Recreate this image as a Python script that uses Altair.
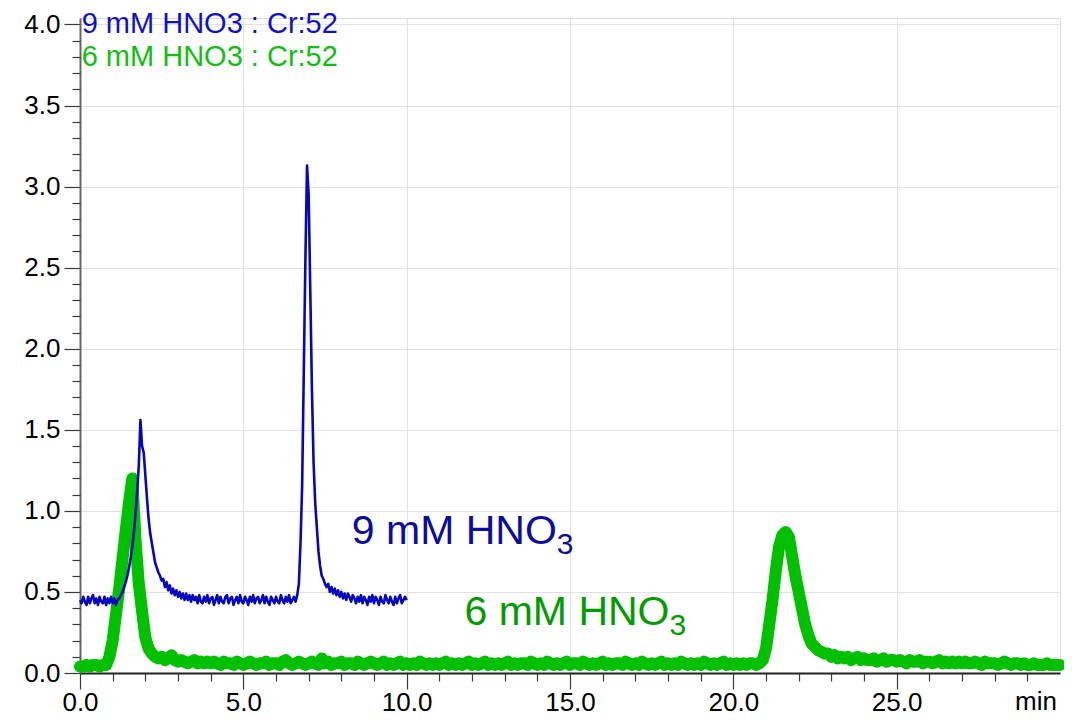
import altair as alt
import pandas as pd

# ---- data (signal vs retention time, min) ----
BLUE_STEP = 0.05   # sampling interval of the 9 mM trace (min)
GREEN_STEP = 0.1   # sampling interval of the 6 mM trace (min)

blue_signal = [
    0.45, 0.43, 0.47, 0.44, 0.42, 0.47, 0.43, 0.46, 0.48, 0.43,
    0.46, 0.42, 0.47, 0.44, 0.43, 0.47, 0.42, 0.46, 0.43, 0.47,
    0.43, 0.46, 0.42, 0.45, 0.46, 0.48, 0.50, 0.53, 0.56, 0.60,
    0.65, 0.71, 0.78, 0.87, 0.98, 1.12, 1.28, 1.56, 1.40, 1.36,
    1.22, 1.08, 0.95, 0.86, 0.80, 0.74, 0.68, 0.65, 0.62, 0.60,
    0.57, 0.58, 0.53, 0.56, 0.51, 0.54, 0.49, 0.52, 0.48, 0.51,
    0.47, 0.50, 0.46, 0.49, 0.45, 0.49, 0.45, 0.48, 0.44, 0.48,
    0.45, 0.47, 0.43, 0.48, 0.44, 0.43, 0.47, 0.44, 0.48, 0.43,
    0.46, 0.47, 0.42, 0.45, 0.48, 0.43, 0.47, 0.44, 0.43, 0.47,
    0.48, 0.43, 0.46, 0.47, 0.42, 0.45, 0.47, 0.43, 0.48, 0.44,
    0.43, 0.47, 0.45, 0.42, 0.47, 0.44, 0.48, 0.43, 0.46, 0.47,
    0.43, 0.45, 0.48, 0.43, 0.47, 0.44, 0.42, 0.47, 0.45, 0.43,
    0.47, 0.44, 0.43, 0.48, 0.45, 0.43, 0.47, 0.44, 0.48, 0.43,
    0.45, 0.47, 0.44, 0.48, 0.55, 0.80, 1.15, 1.85, 2.55, 3.13,
    2.95, 2.35, 1.75, 1.30, 1.05, 0.90, 0.75, 0.66, 0.60, 0.58,
    0.55, 0.53, 0.55, 0.50, 0.53, 0.49, 0.52, 0.48, 0.51, 0.47,
    0.50, 0.46, 0.49, 0.45, 0.49, 0.47, 0.44, 0.48, 0.46, 0.43,
    0.47, 0.44, 0.48, 0.43, 0.47, 0.45, 0.42, 0.47, 0.44, 0.48,
    0.43, 0.47, 0.45, 0.42, 0.47, 0.44, 0.43, 0.48, 0.45, 0.43,
    0.47, 0.44, 0.42, 0.47, 0.43, 0.46, 0.48, 0.43, 0.45, 0.47,
    0.45,
]

green_signal = [
    0.04, 0.04, 0.05, 0.04, 0.05, 0.05, 0.04, 0.05, 0.05, 0.10,
    0.20, 0.36, 0.52, 0.70, 0.88, 1.05, 1.20, 0.82, 0.55, 0.38,
    0.22, 0.15, 0.12, 0.10, 0.09, 0.10, 0.08, 0.09, 0.11, 0.08,
    0.07, 0.08, 0.07, 0.06, 0.07, 0.08, 0.06, 0.07, 0.06, 0.07,
    0.06, 0.07, 0.06, 0.05, 0.07, 0.06, 0.06, 0.05, 0.07, 0.06,
    0.05, 0.06, 0.07, 0.06, 0.05, 0.06, 0.06, 0.07, 0.05, 0.06,
    0.06, 0.05, 0.07, 0.08, 0.06, 0.05, 0.06, 0.07, 0.06, 0.05,
    0.06, 0.07, 0.06, 0.05, 0.09, 0.06, 0.07, 0.05, 0.06, 0.06,
    0.07, 0.05, 0.06, 0.06, 0.05, 0.07, 0.06, 0.05, 0.06, 0.07,
    0.06, 0.05, 0.06, 0.07, 0.05, 0.06, 0.05, 0.06, 0.07, 0.05,
    0.06, 0.05, 0.06, 0.05, 0.07, 0.06, 0.05, 0.06, 0.05, 0.06,
    0.05, 0.06, 0.07, 0.05, 0.06, 0.05, 0.06, 0.05, 0.06, 0.07,
    0.05, 0.06, 0.05, 0.06, 0.07, 0.05, 0.06, 0.05, 0.06, 0.05,
    0.06, 0.07, 0.05, 0.06, 0.05, 0.06, 0.06, 0.05, 0.07, 0.06,
    0.05, 0.06, 0.05, 0.07, 0.06, 0.05, 0.06, 0.05, 0.06, 0.07,
    0.05, 0.06, 0.06, 0.05, 0.07, 0.06, 0.05, 0.06, 0.05, 0.06,
    0.07, 0.05, 0.06, 0.05, 0.06, 0.06, 0.05, 0.07, 0.06, 0.05,
    0.06, 0.05, 0.07, 0.06, 0.05, 0.06, 0.05, 0.06, 0.07, 0.05,
    0.06, 0.05, 0.06, 0.05, 0.07, 0.06, 0.05, 0.06, 0.05, 0.06,
    0.05, 0.07, 0.06, 0.05, 0.06, 0.05, 0.06, 0.07, 0.05, 0.06,
    0.05, 0.06, 0.05, 0.06, 0.05, 0.06, 0.06, 0.05, 0.06, 0.08,
    0.15, 0.30, 0.45, 0.63, 0.78, 0.85, 0.87, 0.84, 0.72, 0.60,
    0.50, 0.40, 0.30, 0.23, 0.18, 0.16, 0.14, 0.13, 0.12, 0.12,
    0.10, 0.11, 0.09, 0.10, 0.09, 0.10, 0.08, 0.09, 0.10, 0.08,
    0.09, 0.08, 0.08, 0.09, 0.07, 0.08, 0.09, 0.07, 0.08, 0.08,
    0.07, 0.08, 0.07, 0.06, 0.08, 0.07, 0.07, 0.08, 0.06, 0.07,
    0.07, 0.06, 0.07, 0.08, 0.06, 0.07, 0.06, 0.07, 0.06, 0.07,
    0.06, 0.07, 0.06, 0.06, 0.07, 0.06, 0.05, 0.07, 0.06, 0.06,
    0.06, 0.05, 0.06, 0.07, 0.06, 0.05, 0.06, 0.06, 0.05, 0.06,
    0.05, 0.05, 0.06, 0.05, 0.05, 0.05, 0.06, 0.05, 0.05, 0.05,
    0.05,
]

x_major = [0, 5, 10, 15, 20, 25]
x_minor = [v for v in range(1, 30) if v % 5 != 0]
y_major = [0.0, 0.5, 1.0, 1.5, 2.0, 2.5, 3.0, 3.5, 4.0]
y_minor = [round(i * 0.1, 1) for i in range(1, 40) if i % 5 != 0]

legend_text = ["9 mM HNO3 : Cr:52", "6 mM HNO3 : Cr:52"]
legend_color = ["#1010cc", "#10c010"]
legend_x = [0.05, 0.05]
legend_y = [4.0, 3.8]

annot_main = ["9 mM HNO", "6 mM HNO"]
annot_sub = ["3", "3"]
annot_color = ["#0c0ca0", "#009c00"]
annot_x = [8.32, 11.77]
annot_y = [0.87, 0.37]

unit_text = ["min"]
unit_x = [30]
unit_y = [0]

# ---- tables ----
blue_time = [round(i * BLUE_STEP, 2) for i in range(len(blue_signal))]
green_time = [round(i * GREEN_STEP, 1) for i in range(len(green_signal))]
blue_df = pd.DataFrame({"t": blue_time, "v": blue_signal})
green_df = pd.DataFrame({"t": green_time, "v": green_signal})
legend_df = pd.DataFrame({"t": legend_x, "v": legend_y, "txt": legend_text, "c": legend_color})
annot_df = pd.DataFrame({"t": annot_x, "v": annot_y, "txt": annot_main,
                         "sub": annot_sub, "c": annot_color})
unit_df = pd.DataFrame({"t": unit_x, "v": unit_y, "txt": unit_text})

xs = alt.Scale(domain=[0, 30], nice=False, zero=False)
ys = alt.Scale(domain=[0, 4.04], nice=False, zero=False)

FONT = "Liberation Sans"
AX = "#3a3a3a"

major_x = alt.Axis(orient="bottom", values=x_major, format=".1f", tickSize=16,
                   tickColor=AX, tickWidth=1.2, domainColor="#222222", domainWidth=2,
                   labelFontSize=26, labelColor="black", labelPadding=0,
                   labelFont=FONT, labelFlush=False,
                   grid=True, gridColor="#e2e2e2", gridWidth=1, title=None)
major_y = alt.Axis(orient="left", values=y_major, format=".1f", tickSize=16,
                   tickColor=AX, tickWidth=1.2, domainColor="#666666", domainWidth=2,
                   labelFontSize=26, labelColor="black", labelPadding=4,
                   labelFont=FONT, labelFlush=False,
                   grid=True, gridColor="#e2e2e2", gridWidth=1, title=None)
minor_x = alt.Axis(orient="bottom", values=x_minor, tickSize=8, tickColor=AX,
                   tickWidth=1.2, labels=False, domain=False, grid=False, title=None)
minor_y = alt.Axis(orient="left", values=y_minor, tickSize=8, tickColor=AX,
                   tickWidth=1.2, labels=False, domain=False, grid=False, title=None)

green = alt.Chart(green_df).mark_line(
    color="#00c000", strokeWidth=12, strokeCap="round", strokeJoin="round"
).encode(
    x=alt.X("t:Q", scale=xs, axis=major_x),
    y=alt.Y("v:Q", scale=ys, axis=major_y),
)

blue = alt.Chart(blue_df).mark_line(
    color="#0606c0", strokeWidth=2.6, strokeJoin="round"
).encode(
    x=alt.X("t:Q", scale=xs, axis=None),
    y=alt.Y("v:Q", scale=ys, axis=None),
)

legend = alt.Chart(legend_df).mark_text(
    align="left", baseline="middle", fontSize=29, font=FONT
).encode(
    x=alt.X("t:Q", scale=xs, axis=minor_x),
    y=alt.Y("v:Q", scale=ys, axis=minor_y),
    text="txt:N",
    color=alt.Color("c:N", scale=None),
)

annot = alt.Chart(annot_df).mark_text(
    align="left", baseline="middle", fontSize=41, font=FONT
).encode(
    x=alt.X("t:Q", scale=xs, axis=None),
    y=alt.Y("v:Q", scale=ys, axis=None),
    text="txt:N",
    color=alt.Color("c:N", scale=None),
)

annot_subscript = alt.Chart(annot_df).mark_text(
    align="left", baseline="middle", fontSize=30, font=FONT, dx=205, dy=13
).encode(
    x=alt.X("t:Q", scale=xs, axis=None),
    y=alt.Y("v:Q", scale=ys, axis=None),
    text="sub:N",
    color=alt.Color("c:N", scale=None),
)

unit = alt.Chart(unit_df).mark_text(
    align="right", baseline="top", fontSize=26, font=FONT, color="black", dx=-3, dy=16
).encode(
    x=alt.X("t:Q", scale=xs, axis=None),
    y=alt.Y("v:Q", scale=ys, axis=None),
    text="txt:N",
)

chart = alt.layer(green, blue, legend, annot, annot_subscript, unit).resolve_axis(
    x="independent", y="independent"
).properties(
    width=980, height=655,
    autosize=alt.AutoSizeParams(type="none"),
    padding={"left": 72, "top": 10, "right": 4, "bottom": 42},
).configure_view(stroke="#333333", strokeWidth=1).configure(font=FONT)

chart.save("out.html", embed_options={"renderer": "svg", "actions": False})
